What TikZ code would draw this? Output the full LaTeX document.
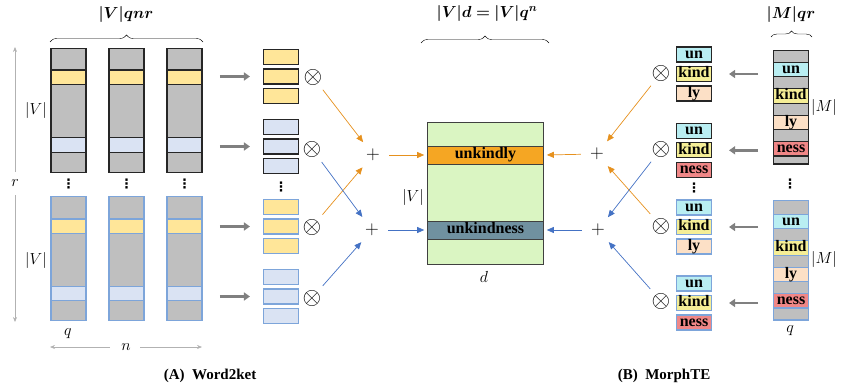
\RequirePackage{fix-cm}
\documentclass[tikz,border=0pt]{standalone}
\usepackage{amsmath,bm}
\usepackage{fontspec}
\setmainfont{Liberation Serif}
\newfontfamily\symfont{DejaVu Sans}
\usetikzlibrary{positioning,arrows.meta,decorations.pathreplacing,calc}
\definecolor{cellgray}{RGB}{191,191,191}
\definecolor{ketyel}{RGB}{255,230,153}
\definecolor{ketblu}{RGB}{218,227,243}
\definecolor{edgeblu}{RGB}{125,165,218}
\definecolor{embgrn}{RGB}{218,245,194}
\definecolor{kindlyclr}{RGB}{245,166,35}
\definecolor{kindnessclr}{RGB}{112,145,160}
\definecolor{orgarr}{RGB}{230,145,30}
\definecolor{bluarr}{RGB}{68,114,196}
\definecolor{unclr}{RGB}{185,238,242}
\definecolor{kindclr}{RGB}{245,238,150}
\definecolor{lyclr}{RGB}{252,224,198}
\definecolor{nessclr}{RGB}{240,135,135}
\tikzset{
    cellk/.style={draw=black!85,line width=1.1pt},
    cellb/.style={draw=edgeblu,line width=1.1pt},
    vec/.style={minimum width=35pt,minimum height=15pt,inner sep=0pt,fill=#1},
    mtxt/.style={font=\fontsize{16}{16}\selectfont\bfseries,text height=9.5pt,text depth=2pt},
    band/.style={draw=black!75,line width=1pt,minimum width=115.6pt,minimum height=18pt,inner sep=0pt,mtxt},
    feed/.style={draw=gray,line width=2.6pt,-{Triangle[length=6pt,width=8pt]}},
    orgline/.style={draw=orgarr,line width=0.7pt,-{Triangle[length=7pt,width=6pt]},shorten <=3pt,shorten >=3pt},
    bluline/.style={orgline,draw=bluarr},
    axis/.style={draw=gray!60,line width=0.6pt,-{Stealth[length=5pt,width=4pt]}},
    opnode/.style={circle,minimum size=26pt,inner sep=0pt},
    otimes/.style={opnode,font=\fontsize{24}{24}\selectfont},
    oplus/.style={opnode,font=\fontsize{19}{19}\selectfont},
    dots/.style={inner sep=0pt,font=\symfont\bfseries\fontsize{13}{13}\selectfont},
    lbl/.style={font=\fontsize{16}{16}\selectfont},
    caption/.style={font=\fontsize{15}{15}\selectfont\bfseries},
}
\begin{document}
\begin{tikzpicture}[x=1pt,y=-1pt]
\useasboundingbox (0,0) rectangle (843,388);
% Word2ket: r blocks of n columns
\foreach \cx in {51,109,167} {
  \draw[cellk,fill=cellgray] (\cx,48.5) rectangle ++(35,124);
  \draw[cellk,fill=ketyel] (\cx,70) rectangle ++(35,14.5);
  \draw[cellk,fill=ketblu] (\cx,137.7) rectangle ++(35,15);
  \draw[cellb,fill=cellgray] (\cx,196.7) rectangle ++(35,124);
  \draw[cellb,fill=ketyel] (\cx,219) rectangle ++(35,14.3);
  \draw[cellb,fill=ketblu] (\cx,286.7) rectangle ++(35,14);
  \node[dots] at (\cx+17.5,184) {⋮};
}
\node[lbl] (rlbl) at (15,183) {$r$};
\coordinate (rtop) at (15,47);
\coordinate (rbot) at (15,322);
\draw[axis] (15,172) -- (rtop);
\draw[axis] (15,195) -- (rbot);
\node[lbl] (vl1) at (36,110) {$|V|$};
\node[lbl] (vl2) at (36,260) {$|V|$};
\node[lbl] (qlbl) at (68,334) {$q$};
\node[lbl] (nlbl) at (126,347) {$n$};
\coordinate (nleft) at (50,347);
\coordinate (nright) at (202,347);
\draw[axis] (110,347) -- (nleft);
\draw[axis] (140,347) -- (nright);
\draw[decorate,decoration={brace,amplitude=7pt}] (50,42) -- (203,42);
\node[lbl] (wlbl) at (126,15) {$\bm{|V|qnr}$};

% sliced vectors
\foreach \nm/\cy/\st/\fc in {k1/56.7/cellk/ketyel,k2/126.7/cellk/ketblu,k3/206.7/cellb/ketyel,k4/276.7/cellb/ketblu} {
  \node[vec=\fc,\st] (\nm-a) at (281,\cy) {};
  \node[vec=\fc,\st] (\nm-b) at (281,\cy+19.8) {};
  \node[vec=\fc,\st] (\nm-c) at (281,\cy+39.6) {};
  \draw[feed] ([xshift=-43pt]\nm-b.west) -- ([xshift=-13pt]\nm-b.west);
}
\node[dots] at (281,187) {⋮};

% tensor products and sums
\node[otimes] (o1) at (313,77) {$\otimes$};
\node[otimes] (o2) at (312,149) {$\otimes$};
\node[otimes] (o3) at (312,227) {$\otimes$};
\node[otimes] (o4) at (312,298) {$\otimes$};
\node[oplus] (p1) at (373,155) {$+$};
\node[oplus] (p2) at (372,230) {$+$};

% embedding matrix
\node[draw=black!75,line width=1pt,fill=embgrn,minimum width=115.6pt,minimum height=141.7pt,inner sep=0pt] (emb) at (485.5,193.2) {};
\node[band,fill=kindlyclr] (kly) at (485.5,155) {unkindly};
\node[band,fill=kindnessclr] (kns) at (485.5,230) {unkindness};
\node[lbl] (vl3) at (413,197) {$|V|$};
\node[lbl] (dlbl) at (484,277) {$d$};
\draw[decorate,decoration={brace,amplitude=7pt}] (421,43) -- (549,43);
\node[lbl] (elbl) at (487,13) {$\bm{|V|d=|V|q^n}$};

\draw[orgline] (o1) -- (p1);
\draw[orgline] (o3) -- (p1);
\draw[bluline] (o2) -- (p2);
\draw[bluline] (o4) -- (p2);
\draw[orgline] (p1) -- (kly.west);
\draw[bluline] (p2) -- (kns.west);

% MorphTE
\node[oplus] (q1) at (597,154) {$+$};
\node[oplus] (q2) at (598,230) {$+$};
\node[otimes] (u1) at (661,73) {$\otimes$};
\node[otimes] (u2) at (661,149) {$\otimes$};
\node[otimes] (u3) at (661,226) {$\otimes$};
\node[otimes] (u4) at (661,301) {$\otimes$};
\draw[orgline] (u1) -- (q1);
\draw[orgline] (u3) -- (q1);
\draw[bluline] (u2) -- (q2);
\draw[bluline] (u4) -- (q2);
\draw[orgline] (q1) -- (kly.east);
\draw[bluline] (q2) -- (kns.east);

\foreach \nm/\cy/\st/\w in {m1/54.5/cellk/ly,m2/130.8/cellk/ness,m3/207.5/cellb/ly,m4/283.5/cellb/ness} {
  \node[vec=unclr,\st,mtxt] (\nm-a) at (694,\cy) {un};
  \node[vec=kindclr,\st,mtxt] (\nm-b) at (694,\cy+19.5) {kind};
  \node[vec=\w clr,\st,mtxt] (\nm-c) at (694,\cy+39) {\w};
  \draw[feed] ([xshift=46pt]\nm-b.east) -- ([xshift=17pt]\nm-b.east);
}
\node[dots] at (694,188) {⋮};

% morpheme matrices
\draw[cellk,fill=cellgray] (773.3,50.7) rectangle (808.7,164);
\foreach \w [count=\i from 0] in {un,kind,ly,ness}
  \node[vec=\w clr,cellk,mtxt,minimum width=35.4pt,minimum height=14.5pt] (mu-\w) at (791,69.5+26.4*\i) {\w};
\draw[cellb,fill=cellgray] (773.3,200.7) rectangle (808.7,320);
\foreach \w [count=\i from 0] in {un,kind,ly,ness}
  \node[vec=\w clr,cellb,mtxt,minimum width=35.4pt,minimum height=14.5pt] (ml-\w) at (791,221.5+26.4*\i) {\w};
\node[dots] at (790,184) {⋮};
\node[lbl] (ml1) at (824,107) {$|M|$};
\node[lbl] (ml2) at (824,259) {$|M|$};
\node[lbl] (qlbl2) at (790,331) {$q$};
\draw[decorate,decoration={brace,amplitude=6pt}] (771,37) -- (812,37);
\node[lbl] (mlbl) at (791,14) {$\bm{|M|qr}$};

% captions
\node[caption] (capA) at (210,376) {(A)\ \ Word2ket};
\node[caption] (capB) at (664,376) {(B)\ \ MorphTE};
\end{tikzpicture}
\end{document}
